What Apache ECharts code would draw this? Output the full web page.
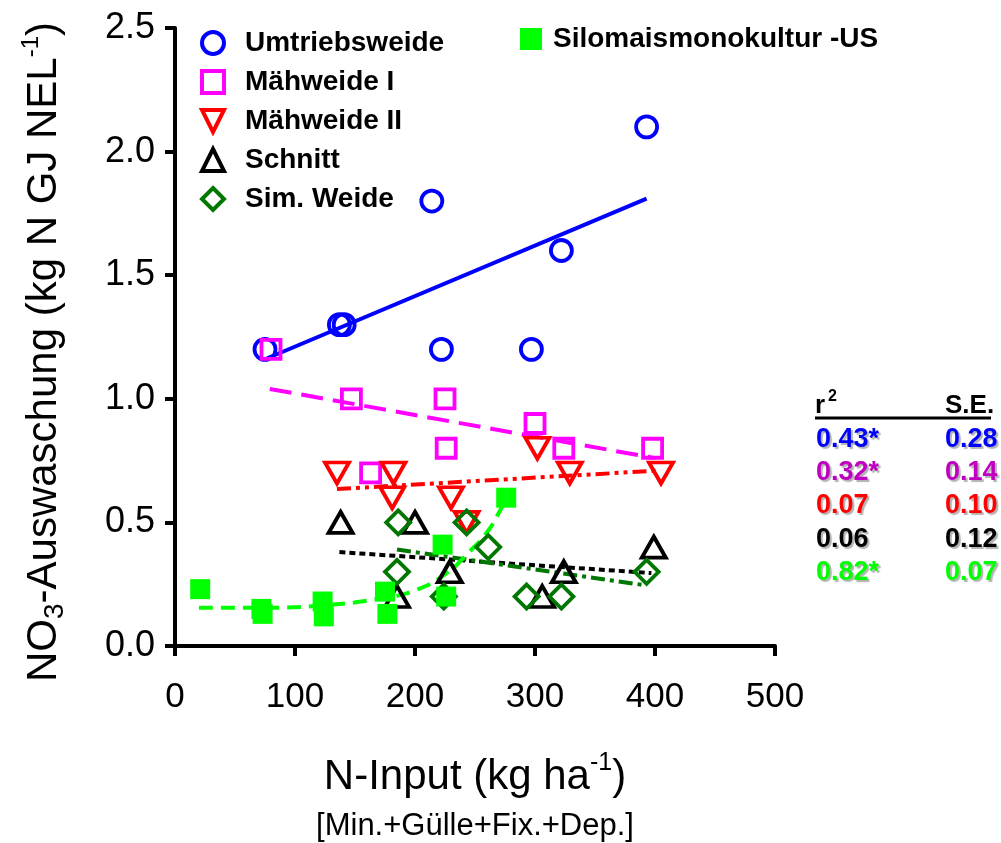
<!DOCTYPE html>
<html>
<head>
<meta charset="utf-8">
<script src="https://cdn.jsdelivr.net/npm/echarts@6/dist/echarts.min.js"></script>
<style>html,body{margin:0;padding:0;background:#fff;}#c{width:1001px;height:843px;}</style>
</head>
<body>
<div id="c"></div>
<script>
// ---- data ----
const seriesNames = ['Umtriebsweide', 'Mähweide I', 'Mähweide II', 'Schnitt', 'Sim. Weide', 'Silomaismonokultur -US'];
const umtriebsweide = [[75,1.2],[137,1.3],[141,1.3],[214,1.8],[222,1.2],[297,1.2],[322,1.6],[393,2.1]];
const maehweide1 = [[80,1.2],[147,1.0],[163,0.7],[225,1.0],[226,0.8],[300,0.9],[324,0.8],[398,0.8]];
const maehweide2 = [[135,0.7],[182,0.7],[181,0.6],[230,0.6],[243,0.5],[302,0.8],[329,0.7],[405,0.7]];
const schnitt = [[138,0.5],[200,0.5],[185,0.2],[229,0.3],[306,0.2],[324,0.3],[399,0.4]];
const simWeide = [[186,0.5],[185,0.3],[224,0.2],[243,0.5],[261,0.4],[293,0.2],[322,0.2],[393,0.3]];
const silomais = [[21,0.23],[72,0.15],[73,0.13],[123,0.18],[124,0.12],[175,0.22],[177,0.13],[223,0.41],[226,0.2],[276,0.6]];

// regression / fit lines (end points / read points)
const fitUmtrieb = [[75,1.16],[393,1.81]];
const fitMaehweide1 = [[79,1.04],[400,0.76]];
const fitMaehweide2 = [[135,0.635],[404,0.71]];
const fitSchnitt = [[137,0.38],[397,0.295]];
const fitSimWeide = [[185,0.39],[393,0.245]];
const fitSilomais = [[20,0.155],[75,0.155],[125,0.165],[175,0.195],[200,0.225],[225,0.29],[245,0.38],[260,0.46],[270,0.54],[275,0.59]];

// statistics table
const r2Values = ['0.43*', '0.32*', '0.07', '0.06', '0.82*'];
const seValues = ['0.28', '0.14', '0.10', '0.12', '0.07'];
const tableColors = ['#0000ff', '#c000c0', '#ff0000', '#000000', '#00ff00'];

const xMin = 0, xMax = 500, xStep = 100;
const yMin = 0, yMax = 2.5, yStep = 0.5;

// ---- chart ----
const FONT = '"Liberation Sans", Arial, sans-serif';
const chart = echarts.init(document.getElementById('c'), null, {renderer: 'canvas'});

const colors = ['#0000ff', '#ff00ff', '#ff0000', '#000000', '#007700', '#00ff00'];
const symbols = ['circle', 'rect', 'path://M0,0 L10,0 L5,10 Z', 'triangle', 'diamond', 'rect'];
const symbolSizes = [[21, 21], [19, 19], [24, 21], [24, 21], [24, 24], [20, 20]];

function scatter(i, data) {
  const filled = i === 5;
  return {
    type: 'scatter', name: seriesNames[i], data: data, symbol: symbols[i], symbolSize: symbolSizes[i], z: 5,
    itemStyle: filled ? {color: colors[i], opacity: 1}
      : {color: 'rgba(255,255,255,0)', borderColor: colors[i], borderWidth: 3.8, opacity: 1}
  };
}
function fitLine(data, color, type, smooth) {
  return {
    type: 'line', data: data, symbol: 'none', smooth: !!smooth, z: 3, silent: true,
    lineStyle: {color: color, width: 4, type: type, cap: 'butt'}
  };
}
function legendItem(i) {
  const filled = i === 5;
  return {
    name: seriesNames[i], icon: symbols[i],
    itemStyle: filled ? {color: colors[i], borderWidth: 0}
      : {color: 'rgba(255,255,255,0)', borderColor: colors[i], borderWidth: 4}
  };
}

const graphics = [];
graphics.push({type: 'text', left: 815, top: 393, style: {text: 'r', font: 'bold 26px ' + FONT, fill: '#000'}});
graphics.push({type: 'text', left: 828, top: 389, style: {text: '2', font: 'bold 16px ' + FONT, fill: '#000'}});
graphics.push({type: 'text', left: 945, top: 393, style: {text: 'S.E.', font: 'bold 26px ' + FONT, fill: '#000'}});
graphics.push({type: 'line', shape: {x1: 815, y1: 418, x2: 991, y2: 418}, style: {stroke: '#000', lineWidth: 3}});
r2Values.forEach(function (v, i) {
  const y = 426 + i * 33.2;
  const st = {font: 'bold 27px ' + FONT, fill: tableColors[i], textShadowColor: 'rgba(0,0,0,0.3)', textShadowOffsetX: 2, textShadowOffsetY: 2, textShadowBlur: 1};
  graphics.push({type: 'text', left: 816, top: y, style: Object.assign({text: v}, st)});
  graphics.push({type: 'text', left: 945, top: y, style: Object.assign({text: seValues[i]}, st)});
});

const option = {
  backgroundColor: '#fff',
  animation: false,
  textStyle: {fontFamily: FONT},
  grid: {left: 175, right: 226, top: 28, bottom: 197, containLabel: false, outerBoundsMode: 'none'},
  xAxis: {
    type: 'value', min: xMin, max: xMax, interval: xStep,
    splitLine: {show: false},
    axisLine: {onZero: false, lineStyle: {color: '#000', width: 4}},
    axisTick: {inside: false, length: 10, lineStyle: {color: '#000', width: 4}},
    axisLabel: {color: '#000', fontSize: 35, margin: 34, fontFamily: FONT},
    name: '{t|N-Input (kg ha}{sup|-1}{t|)}\n{s|[Min.+Gülle+Fix.+Dep.]}',
    nameLocation: 'middle', nameGap: 102,
    nameTextStyle: {
      color: '#000',
      rich: {
        t: {fontSize: 42, fontFamily: FONT, color: '#000', lineHeight: 50, verticalAlign: 'bottom'},
        sup: {fontSize: 25, fontFamily: FONT, color: '#000', lineHeight: 50, verticalAlign: 'top', padding: [3, 0, 0, 0]},
        s: {fontSize: 31, fontFamily: FONT, color: '#000', lineHeight: 56}
      }
    }
  },
  yAxis: {
    type: 'value', min: yMin, max: yMax, interval: yStep,
    splitLine: {show: false},
    axisLine: {onZero: false, lineStyle: {color: '#000', width: 4}},
    axisTick: {inside: false, length: 10, lineStyle: {color: '#000', width: 4}},
    axisLabel: {color: '#000', fontSize: 36, margin: 20, fontFamily: FONT, formatter: function (v) { return v.toFixed(1); }},
    name: '{t|NO}{sub|3}{t|-Auswaschung (kg N GJ NEL}{sup|-1}{t|)}',
    nameLocation: 'middle', nameGap: 106, nameRotate: 90,
    nameTextStyle: {
      color: '#000',
      padding: [0, 30, 0, 0],
      rich: {
        t: {fontSize: 42, fontFamily: FONT, color: '#000', lineHeight: 50, verticalAlign: 'middle'},
        sub: {fontSize: 28, fontFamily: FONT, color: '#000', lineHeight: 50, verticalAlign: 'bottom'},
        sup: {fontSize: 24, fontFamily: FONT, color: '#000', lineHeight: 50, verticalAlign: 'top'}
      }
    }
  },
  legend: [{
    data: [0, 1, 2, 3, 4].map(legendItem),
    orient: 'vertical', left: 195, top: 24, itemWidth: 22, itemHeight: 22, itemGap: 11,
    textStyle: {fontSize: 28, fontWeight: 'bold', color: '#000', fontFamily: FONT, padding: [0, 0, 0, 16]},
    selectedMode: false
  }, {
    data: [legendItem(5)],
    orient: 'vertical', left: 515, top: 20, itemWidth: 22, itemHeight: 22,
    textStyle: {fontSize: 28, fontWeight: 'bold', color: '#000', fontFamily: FONT, padding: [0, 0, 0, 6]},
    selectedMode: false
  }],
  series: [
    fitLine(fitUmtrieb, '#0000ff', 'solid'),
    fitLine(fitMaehweide1, '#ff00ff', [22, 10]),
    fitLine(fitMaehweide2, '#ff0000', [14, 5, 4, 5, 4, 5]),
    fitLine(fitSchnitt, '#000000', [6, 4]),
    fitLine(fitSimWeide, '#007700', [14, 5, 4, 5]),
    fitLine(fitSilomais, '#00ff00', [14, 8], true),
    scatter(0, umtriebsweide),
    scatter(1, maehweide1),
    scatter(2, maehweide2),
    scatter(3, schnitt),
    scatter(4, simWeide),
    scatter(5, silomais)
  ],
  graphic: graphics
};
chart.setOption(option);
</script>
</body>
</html>
